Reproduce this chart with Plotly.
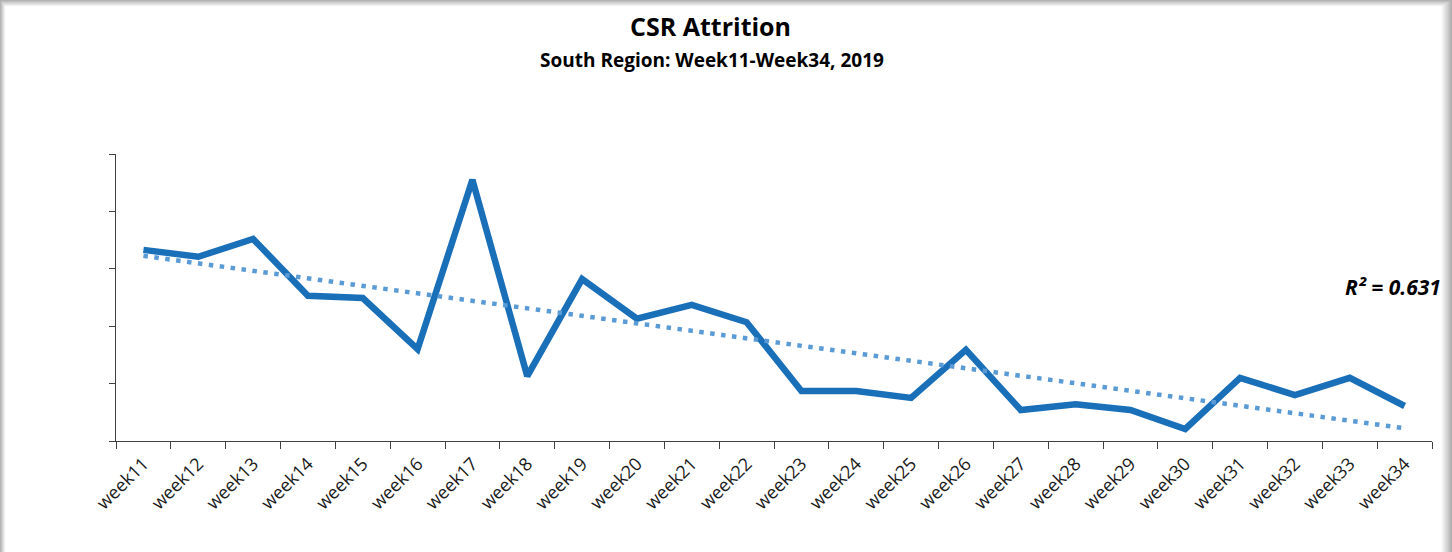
import numpy as np
import plotly.graph_objects as go

weeks = [f"week{i}" for i in range(11, 35)]
attrition = [3.33, 3.21, 3.52, 2.53, 2.49, 1.60, 4.55, 1.13, 2.82, 2.13, 2.37, 2.07,
             0.87, 0.87, 0.75, 1.59, 0.54, 0.64, 0.54, 0.21, 1.10, 0.80, 1.10, 0.61]
y_ticks = [0, 1, 2, 3, 4, 5]
r2_label = "R² = 0.631"
title_text = "CSR Attrition"
subtitle_text = "South Region: Week11-Week34, 2019"

# linear trendline fitted to the series
idx = np.arange(len(attrition))
slope, intercept = np.polyfit(idx, attrition, 1)
trend = (slope * idx + intercept).tolist()

W, H = 1452, 552
L, R, T, B = 116, 20, 154, 111
PW, PH = W - L - R, H - T - B


def px(x):
    return (x - L) / PW


def py(y):
    return (H - B - y) / PH


fig = go.Figure()
fig.add_trace(go.Scatter(
    x=weeks, y=attrition, mode="lines",
    line=dict(color="#1A6FB9", width=6.5), hoverinfo="x+y", showlegend=False))
fig.add_trace(go.Scatter(
    x=weeks, y=trend, mode="lines",
    line=dict(color="#5B9BD5", width=4.5, dash="4.5px,6.5px"), showlegend=False))

# card with soft shadow: nested rectangles getting lighter toward the card
shadow_cols = ["#b0b0b0", "#bcbcbc", "#c8c8c8", "#d3d3d3", "#dedede", "#e8e8e8", "#f3f3f3", "#ffffff"]
n = len(shadow_cols)
shapes = []
for k, c in enumerate(shadow_cols):
    left = k * 5 / (n - 1)
    top = k * 6 / (n - 1)
    right = W - k * 10 / (n - 1)
    shapes.append(dict(type="rect", xref="paper", yref="paper",
                       x0=px(left), x1=px(right), y0=py(H + 2), y1=py(top),
                       fillcolor=c, line=dict(width=0), layer="below"))

annotations = [
    dict(text=f"<b>{title_text}</b>", x=px(710), y=py(26), xref="paper", yref="paper",
         showarrow=False, xanchor="center", yanchor="middle",
         font=dict(family="Open Sans", size=25, color="#000000")),
    dict(text=f"<b>{subtitle_text}</b>", x=px(712), y=py(60), xref="paper", yref="paper",
         showarrow=False, xanchor="center", yanchor="middle",
         font=dict(family="Open Sans", size=19, color="#000000")),
    dict(text=f"<b><i>{r2_label}</i></b>", x=px(1443), y=py(287), xref="paper", yref="paper",
         showarrow=False, xanchor="right", yanchor="middle",
         font=dict(family="Open Sans", size=21, color="#000000")),
]

fig.update_layout(
    width=W, height=H,
    margin=dict(l=L, r=R, t=T, b=B, pad=0),
    paper_bgcolor="#b0b0b0", plot_bgcolor="white",
    shapes=shapes, annotations=annotations,
    xaxis=dict(
        type="category", tickangle=-45, tickson="boundaries",
        ticks="outside", ticklen=7, tickcolor="#404040", tickwidth=1.3,
        showline=True, linecolor="#404040", linewidth=1.3,
        showgrid=False, zeroline=False, range=[-0.5, len(weeks) - 0.5],
        tickfont=dict(family="Open Sans", size=18, color="#1a1a1a"),
        ticklabelstandoff=4,
    ),
    yaxis=dict(
        range=[y_ticks[0], y_ticks[-1]], tickvals=y_ticks, showticklabels=False,
        ticks="outside", ticklen=6, tickcolor="#404040", tickwidth=1.3,
        showline=True, linecolor="#404040", linewidth=1.3,
        showgrid=False, zeroline=False,
    ),
)

fig.write_html("out.html")
